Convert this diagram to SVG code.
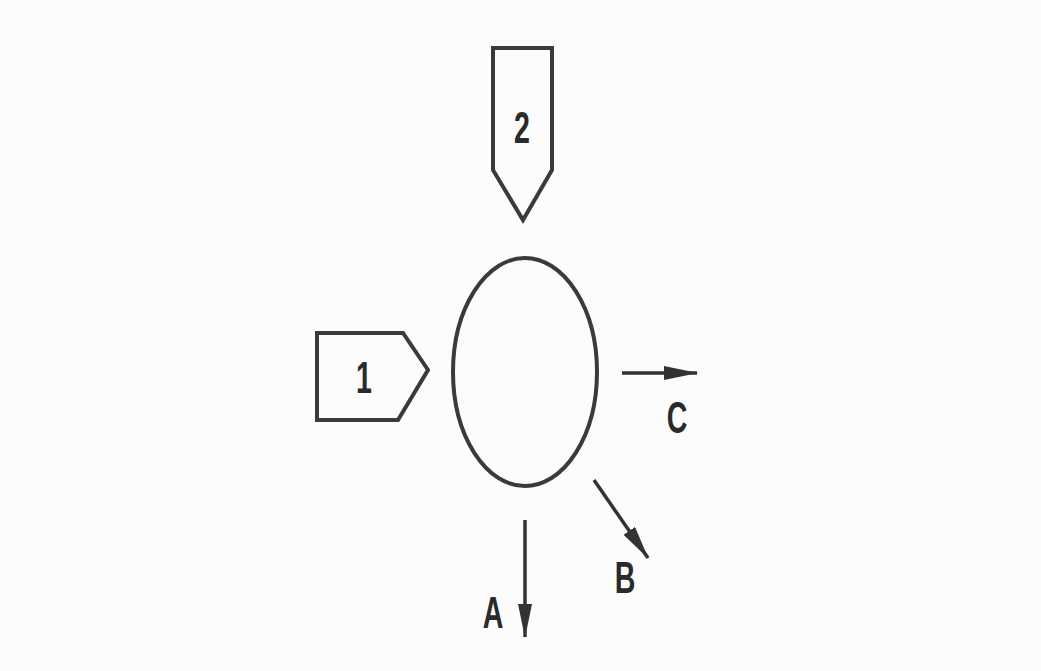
<svg xmlns="http://www.w3.org/2000/svg" width="1041" height="671" viewBox="0 0 1041 671">
<defs>
<style>
.shape{fill:none;stroke:#3a3a3a;stroke-width:4;stroke-linejoin:miter}
.conn{stroke:#333;stroke-width:3.5;fill:none}
.lbl{font-family:"Liberation Sans",Arial,sans-serif;font-weight:bold;font-size:44px;fill:#2a2a2a;text-anchor:middle}
</style>
<marker id="ah" viewBox="0 0 34 14" refX="33" refY="7" markerWidth="34" markerHeight="14" markerUnits="userSpaceOnUse" orient="auto">
<path d="M0,0 L34,7 L0,14 Z" fill="#333"/>
</marker>
</defs>
<rect width="1041" height="671" fill="#fcfcfc"/>
<g id="node-1">
<path class="shape" d="M317,333 L403,333 L428,370 L398,420 L317,420 Z"/>
<text class="lbl" transform="translate(364,393) scale(0.65,1)">1</text>
</g>
<g id="node-2">
<path class="shape" d="M493,48 L552,48 L552,170 L523,220 L493,170 Z"/>
<text class="lbl" transform="translate(522,143) scale(0.65,1)">2</text>
</g>
<g id="node-center">
<ellipse class="shape" cx="525" cy="372" rx="72" ry="114"/>
</g>
<g id="connectors">
<line class="conn" x1="622" y1="373" x2="697" y2="373" marker-end="url(#ah)"/>
<line class="conn" x1="594" y1="480" x2="648" y2="558" marker-end="url(#ah)"/>
<line class="conn" x1="525" y1="520" x2="525" y2="637" marker-end="url(#ah)"/>
</g>
<g id="labels">
<text class="lbl" transform="translate(677,433) scale(0.65,1)">C</text>
<text class="lbl" transform="translate(625,593) scale(0.65,1)">B</text>
<text class="lbl" transform="translate(493,628) scale(0.65,1)">A</text>
</g>
</svg>
